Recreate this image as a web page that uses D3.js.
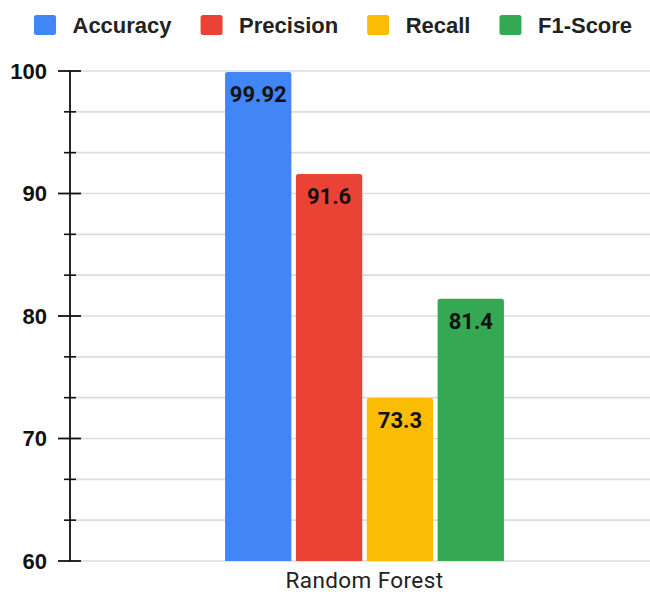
<!DOCTYPE html>
<html>
<head>
<meta charset="utf-8">
<script src="https://cdn.jsdelivr.net/npm/d3@7"></script>
<style>
  html, body { margin: 0; padding: 0; background: #fff; }
  svg { display: block; }
</style>
</head>
<body>
<svg id="chart" width="650" height="592"></svg>
<script>
// Classifier evaluation metrics (percent)
const categories = ["Random Forest"];
const metrics = ["Accuracy", "Precision", "Recall", "F1-Score"];
const values = [99.92, 91.6, 73.3, 81.4];
const colors = ["#4285F4", "#EA4335", "#FBBC04", "#34A853"];
const majorTicks = [60, 70, 80, 90, 100];

const svg = d3.select("#chart");
const W = 650, H = 592;
const margin = { top: 71, right: -9, bottom: 31, left: 70 };

const y = d3.scaleLinear()
  .domain([60, 100])
  .range([H - margin.bottom, margin.top]);

const x0 = d3.scaleBand()
  .domain(categories)
  .range([margin.left, W - margin.right])
  .paddingInner(0)
  .paddingOuter(0.556);

const x1 = d3.scaleBand()
  .domain(metrics)
  .range([0, x0.bandwidth()])
  .paddingInner(0.064)
  .paddingOuter(0);

// Minor ticks split each major interval into thirds
const minorTicks = [];
for (let i = 0; i < majorTicks.length - 1; i++) {
  const a = majorTicks[i], b = majorTicks[i + 1];
  minorTicks.push(a + (b - a) / 3, a + 2 * (b - a) / 3);
}
const allTicks = majorTicks.concat(minorTicks).sort((a, b) => a - b);

// Horizontal gridlines
svg.append("g")
  .selectAll("line")
  .data(allTicks)
  .join("line")
  .attr("x1", margin.left)
  .attr("x2", W)
  .attr("y1", d => y(d))
  .attr("y2", d => y(d))
  .attr("stroke", "#dcdcdc")
  .attr("stroke-width", 1.6);

// Bars with softly rounded tops
const group = svg.append("g")
  .attr("transform", `translate(${x0(categories[0])},0)`);

const r = 2.5;
group.selectAll("path.bar")
  .data(metrics.map((m, i) => ({ m, v: values[i], c: colors[i] })))
  .join("path")
  .attr("class", "bar")
  .attr("fill", d => d.c)
  .attr("d", d => {
    const x = x1(d.m), w = x1.bandwidth();
    const top = y(d.v), bot = y(60);
    return `M${x},${bot}V${top + r}Q${x},${top} ${x + r},${top}` +
           `H${x + w - r}Q${x + w},${top} ${x + w},${top + r}V${bot}Z`;
  });

// Value labels inside the bars
group.selectAll("text.val")
  .data(metrics.map((m, i) => ({ m, v: values[i] })))
  .join("text")
  .attr("class", "val")
  .attr("x", d => x1(d.m) + x1.bandwidth() / 2)
  .attr("y", d => y(d.v) + 30)
  .attr("text-anchor", "middle")
  .attr("font-family", "Roboto, 'Liberation Sans', sans-serif")
  .attr("font-weight", 700)
  .attr("font-size", 22)
  .attr("fill", "#111")
  .text(d => d.v);

// Y axis: spine, major and minor ticks
const axis = svg.append("g");
axis.append("line")
  .attr("x1", margin.left).attr("x2", margin.left)
  .attr("y1", y(100)).attr("y2", y(60))
  .attr("stroke", "#111").attr("stroke-width", 1.8);

axis.selectAll("line.major")
  .data(majorTicks)
  .join("line")
  .attr("class", "major")
  .attr("x1", margin.left - 12).attr("x2", margin.left + 11)
  .attr("y1", d => y(d)).attr("y2", d => y(d))
  .attr("stroke", "#111").attr("stroke-width", 1.8);

axis.selectAll("line.minor")
  .data(minorTicks)
  .join("line")
  .attr("class", "minor")
  .attr("x1", margin.left - 6).attr("x2", margin.left + 6)
  .attr("y1", d => y(d)).attr("y2", d => y(d))
  .attr("stroke", "#111").attr("stroke-width", 1.6);

axis.selectAll("text.tick")
  .data(majorTicks)
  .join("text")
  .attr("class", "tick")
  .attr("x", 47)
  .attr("y", d => y(d))
  .attr("dy", "0.36em")
  .attr("text-anchor", "end")
  .attr("font-family", "'Liberation Sans', Arial, sans-serif")
  .attr("font-weight", 700)
  .attr("font-size", 22)
  .attr("fill", "#111")
  .text(d => d);

// Category label
svg.append("text")
  .attr("x", x0(categories[0]) + x0.bandwidth() / 2)
  .attr("y", 588)
  .attr("text-anchor", "middle")
  .attr("font-family", "Roboto, 'Liberation Sans', sans-serif")
  .attr("font-size", 22.5)
  .attr("letter-spacing", 0.4)
  .attr("fill", "#222")
  .text(categories[0]);

// Legend across the top
const legend = svg.append("g");
let lx = 34;
metrics.forEach((m, i) => {
  const item = legend.append("g");
  item.append("rect")
    .attr("x", lx).attr("y", 15)
    .attr("width", 22).attr("height", 20)
    .attr("rx", 2.5)
    .attr("fill", colors[i]);
  const t = item.append("text")
    .attr("x", lx + 38.5)
    .attr("y", 33)
    .attr("font-family", "'Liberation Sans', Arial, sans-serif")
    .attr("font-weight", 700)
    .attr("font-size", 22)
    .attr("fill", "#222")
    .text(m);
  lx = lx + 38.5 + t.node().getComputedTextLength() + 29;
});
</script>
</body>
</html>
